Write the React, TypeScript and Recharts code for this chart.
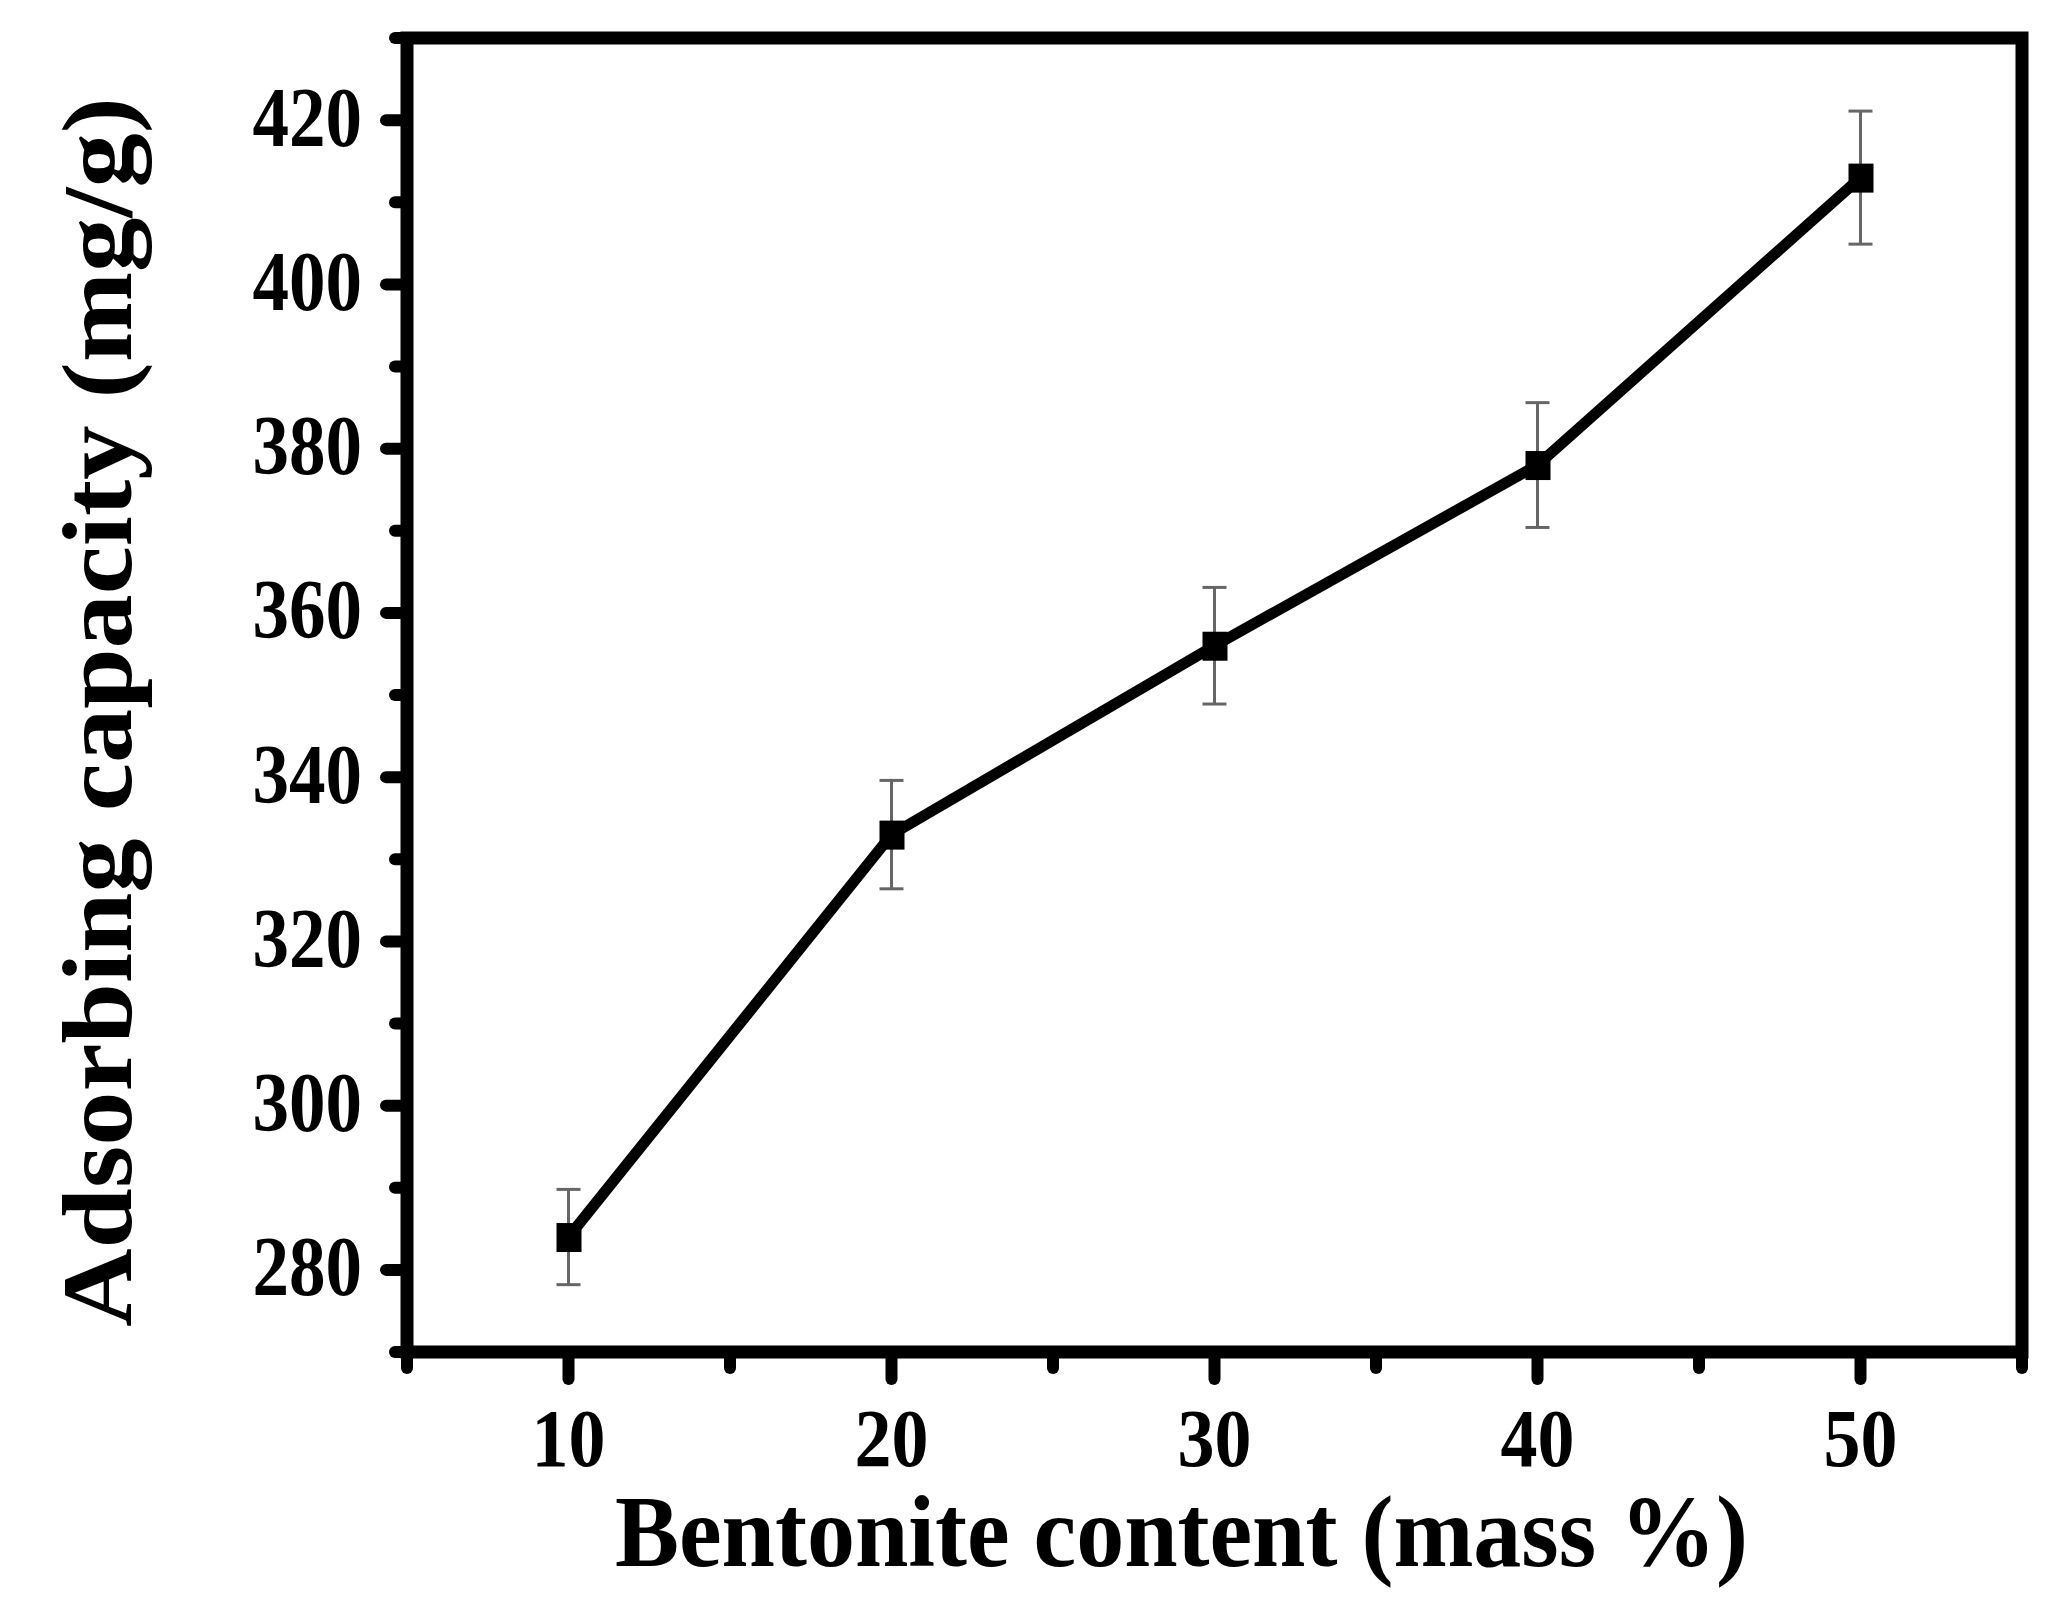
import React from 'react'
import { LineChart, Line, XAxis, YAxis, ErrorBar, ReferenceArea } from 'recharts'

// bentonite content (mass %) vs adsorbing capacity (mg/g)
const contents = [10, 20, 30, 40, 50]
const capacity = [284, 333, 356, 378, 413]
const errors = [5.8, 6.6, 7.1, 7.6, 8.1]

const xTicks = [5, 10, 15, 20, 25, 30, 35, 40, 45, 50, 55]
const xMajor = [10, 20, 30, 40, 50]
const yTicks = [270, 280, 290, 300, 310, 320, 330, 340, 350, 360, 370, 380, 390, 400, 410, 420, 430]
const yMajor = [280, 300, 320, 340, 360, 380, 400, 420]

const data = contents.map((c, i) => ({ content: c, capacity: capacity[i], err: errors[i] }))

const FONT = "'Liberation Serif', 'Times New Roman', serif"

function XTick(props: any) {
  const { x, y, payload } = props
  const major = xMajor.includes(payload.value)
  return (
    <g>
      <line x1={x} y1={y} x2={x} y2={y + (major ? 27 : 16)} stroke="#000" strokeWidth={12} strokeLinecap="round" />
      {major && (
        <text
          transform={`translate(${x}, ${y + 86}) scale(1, 1.12)`}
          textAnchor="middle"
          dominantBaseline="central"
          fontFamily={FONT}
          fontWeight="bold"
          fontSize={74}
          fill="#000">
          {payload.value}
        </text>
      )}
    </g>
  )
}

function YTick(props: any) {
  const { x, y, payload } = props
  const major = yMajor.includes(payload.value)
  return (
    <g>
      <line x1={x} y1={y} x2={x - (major ? 21 : 12)} y2={y} stroke="#000" strokeWidth={12} strokeLinecap="round" />
      {major && (
        <text
          transform={`translate(${x - 45}, ${y - 3}) scale(1, 1.16)`}
          textAnchor="end"
          dominantBaseline="central"
          fontFamily={FONT}
          fontWeight="bold"
          fontSize={73}
          fill="#000">
          {payload.value}
        </text>
      )}
    </g>
  )
}

function Square(props: any) {
  const { cx, cy } = props
  if (cx == null || cy == null) return null
  return <rect x={cx - 12} y={cy - 14} width={25} height={29} fill="#000" />
}

function XLabel(props: any) {
  const vb = props.viewBox
  return (
    <text
      transform={`translate(${vb.x + vb.width / 2 - 33}, ${vb.y + 214}) scale(1, 1.06)`}
      textAnchor="middle"
      fontFamily={FONT}
      fontWeight="bold"
      fontSize={96}
      fill="#000">
      Bentonite content (mass %)
    </text>
  )
}

function YLabel(props: any) {
  const vb = props.viewBox
  return (
    <text
      transform={`translate(131, ${vb.y + vb.height / 2 + 17}) rotate(-90) scale(1.085, 1)`}
      textAnchor="middle"
      fontFamily={FONT}
      fontWeight="bold"
      fontSize={100}
      fill="#000">
      Adsorbing capacity (mg/g)
    </text>
  )
}

export default function App() {
  return (
    <div style={{ position: 'absolute', left: 0, top: 0, background: '#fff' }}>
      <LineChart width={2055} height={1615} data={data} margin={{ top: 38, right: 33, left: 0, bottom: 0 }}>
        <XAxis
          dataKey="content"
          type="number"
          domain={[5, 55]}
          ticks={xTicks}
          interval={0}
          height={263}
          axisLine={false}
          tickLine={false}
          tickSize={0}
          tickMargin={0}
          tick={<XTick />}
          label={<XLabel />}
        />
        <YAxis
          type="number"
          domain={[270, 430]}
          ticks={yTicks}
          interval={0}
          width={407}
          axisLine={false}
          tickLine={false}
          tickSize={0}
          tickMargin={0}
          tick={<YTick />}
          label={<YLabel />}
        />
        <ReferenceArea
          x1={5}
          x2={55}
          y1={270}
          y2={430}
          fill="none"
          fillOpacity={0}
          stroke="#000"
          strokeWidth={13}
          ifOverflow="visible"
        />
        <Line
          dataKey="capacity"
          stroke="#000"
          strokeWidth={11}
          dot={<Square />}
          activeDot={false}
          isAnimationActive={false}>
          <ErrorBar dataKey="err" direction="y" width={12} stroke="#666" strokeWidth={3} />
        </Line>
      </LineChart>
    </div>
  )
}
